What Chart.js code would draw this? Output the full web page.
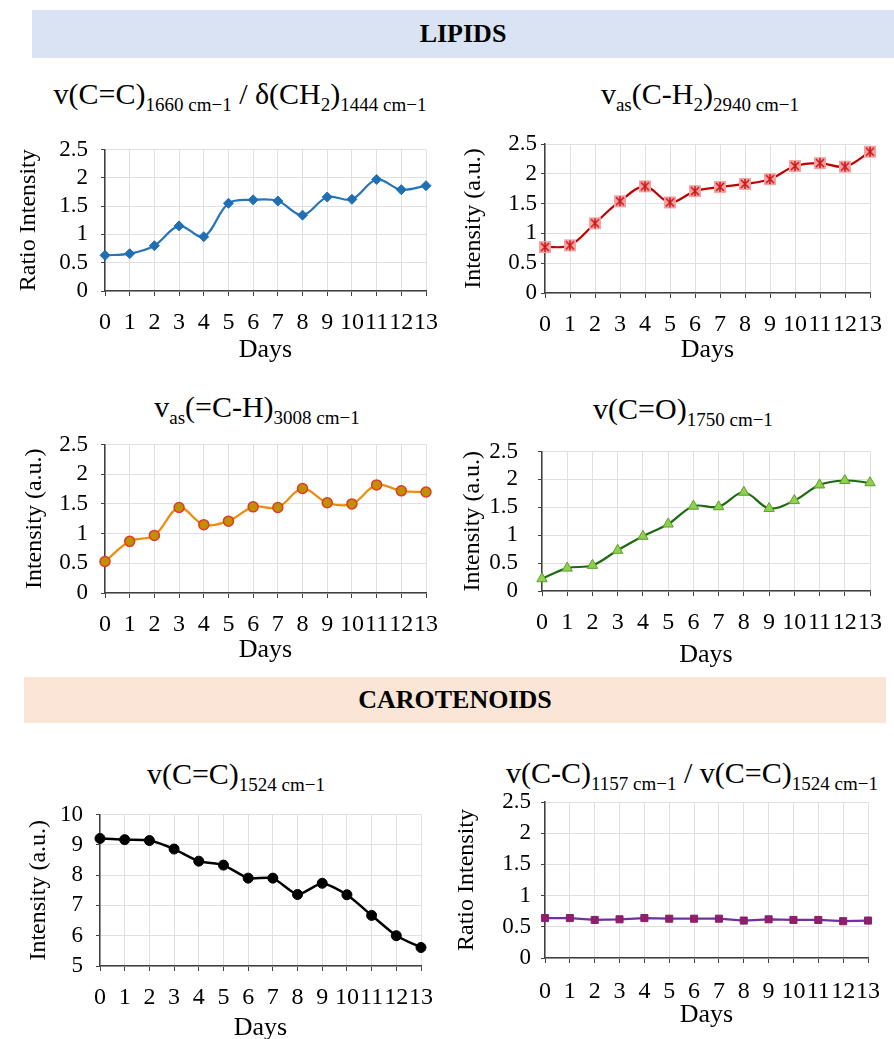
<!DOCTYPE html>
<html>
<head>
<meta charset="utf-8">
<script src="https://cdn.jsdelivr.net/npm/chart.js@4.4.1/dist/chart.umd.min.js"></script>
<style>
  html, body { margin:0; padding:0; background:#ffffff; }
  body { width:894px; height:1039px; position:relative; overflow:hidden; font-family:"Liberation Serif","Times New Roman",serif; color:#000; }
  .banner { position:absolute; font-weight:bold; font-size:26px; display:flex; align-items:center; justify-content:center; }
  .title { position:absolute; white-space:nowrap; font-size:30px; transform:translateX(-50%); line-height:1; }
  .title sub { font-size:19px; vertical-align:-0.35em; line-height:0; }
  .box { position:absolute; }
  .box canvas { display:block; }
</style>
</head>
<body>
<div class="banner" style="left:32px;top:10px;width:862px;height:48px;background:#dae3f3;">LIPIDS</div>
<div class="banner" style="left:24px;top:677px;width:862px;height:46px;background:#fbe5d6;">CAROTENOIDS</div>

<div class="title" style="left:240px;top:79px;">v(C=C)<sub>1660 cm−1</sub> / δ(CH<sub>2</sub>)<sub>1444 cm−1</sub></div>
<div class="title" style="left:700px;top:79px;">v<sub>as</sub>(C-H<sub>2</sub>)<sub>2940 cm−1</sub></div>
<div class="title" style="left:257px;top:392px;">v<sub>as</sub>(=C-H)<sub>3008 cm−1</sub></div>
<div class="title" style="left:683px;top:394px;">v(C=O)<sub>1750 cm−1</sub></div>
<div class="title" style="left:236px;top:759px;">v(C=C)<sub>1524 cm−1</sub></div>
<div class="title" style="left:692px;top:758px;">v(C-C)<sub>1157 cm−1</sub> / v(C=C)<sub>1524 cm−1</sub></div>

<div class="box" id="b1"><canvas id="c1"></canvas></div>
<div class="box" id="b2"><canvas id="c2"></canvas></div>
<div class="box" id="b3"><canvas id="c3"></canvas></div>
<div class="box" id="b4"><canvas id="c4"></canvas></div>
<div class="box" id="b5"><canvas id="c5"></canvas></div>
<div class="box" id="b6"><canvas id="c6"></canvas></div>

<script>
// ---- data ----
const days = ['0','1','2','3','4','5','6','7','8','9','10','11','12','13'];
const ratioCC_CH2 = [0.63, 0.66, 0.80, 1.15, 0.96, 1.55, 1.61, 1.59, 1.34, 1.66, 1.62, 1.97, 1.79, 1.86];
const vasCH2      = [0.77, 0.80, 1.17, 1.54, 1.79, 1.52, 1.71, 1.78, 1.83, 1.91, 2.13, 2.18, 2.12, 2.37];
const vasCH       = [0.53, 0.87, 0.97, 1.44, 1.15, 1.21, 1.45, 1.44, 1.76, 1.52, 1.50, 1.82, 1.72, 1.70];
const vCO         = [0.22, 0.41, 0.46, 0.73, 0.98, 1.20, 1.52, 1.51, 1.77, 1.48, 1.62, 1.90, 1.98, 1.94];
const vCC1524     = [9.21, 9.17, 9.14, 8.86, 8.46, 8.33, 7.90, 7.90, 7.36, 7.73, 7.35, 6.67, 6.00, 5.61];
const ratioCC_CC  = [0.64, 0.64, 0.61, 0.62, 0.64, 0.63, 0.63, 0.63, 0.60, 0.62, 0.61, 0.61, 0.59, 0.60];
const xTitle = 'Days';
const yTitleRatio = 'Ratio Intensity';
const yTitleInt = 'Intensity (a.u.)';

const FONT = "'Liberation Serif', 'Times New Roman', serif";

// custom asterisk-in-square marker
function starMarker() {
  const c = document.createElement('canvas');
  c.width = 14; c.height = 14;
  const g = c.getContext('2d');
  g.fillStyle = '#f3a3a3';
  g.fillRect(1, 1, 12, 12);
  g.strokeStyle = '#d01818';
  g.lineWidth = 1.6;
  g.beginPath();
  g.moveTo(3, 3); g.lineTo(11, 11);
  g.moveTo(11, 3); g.lineTo(3, 11);
  g.moveTo(7, 2); g.lineTo(7, 12);
  g.stroke();
  return c;
}

function makeChart(cfg) {
  const box = document.getElementById(cfg.box);
  box.style.left = cfg.cl + 'px';
  box.style.top = cfg.ct + 'px';
  box.style.width = cfg.cw + 'px';
  box.style.height = cfg.ch + 'px';
  const cv = document.getElementById(cfg.canvas);
  cv.width = cfg.cw; cv.height = cfg.ch;
  cv.style.width = cfg.cw + 'px'; cv.style.height = cfg.ch + 'px';
  const yW = cfg.pl - cfg.cl;
  const xH = cfg.ct + cfg.ch - cfg.pb;
  new Chart(cv, {
    type: 'line',
    data: {
      labels: days,
      datasets: [{
        data: cfg.data,
        borderColor: cfg.line,
        borderWidth: cfg.lw || 2.2,
        tension: cfg.tension,
        cubicInterpolationMode: 'default',
        pointStyle: cfg.pointStyle,
        pointRadius: cfg.pr,
        pointBackgroundColor: cfg.pfill,
        pointBorderColor: cfg.pborder,
        pointBorderWidth: cfg.pbw || 1,
        fill: false
      }]
    },
    options: {
      responsive: false,
      maintainAspectRatio: false,
      animation: false,
      devicePixelRatio: 1,
      layout: { padding: { left: 0, top: cfg.pt - cfg.ct, right: cfg.cl + cfg.cw - cfg.pr_, bottom: 0 } },
      plugins: { legend: { display: false }, tooltip: { enabled: false }, title: { display: false } },
      scales: {
        x: {
          type: 'category',
          offset: false,
          grid: { color: '#e0e0e0', lineWidth: 1, drawTicks: true, tickLength: 5, tickColor: '#404040' },
          border: { color: '#404040', width: 1.5 },
          ticks: { autoSkip: false, maxRotation: 0, minRotation: 0, color: '#000', padding: cfg.xpad, font: { family: FONT, size: 24 } },
          title: { display: true, text: xTitle, color: '#000', font: { family: FONT, size: 26, lineHeight: 1 }, padding: { top: 0, bottom: cfg.xtpad } },
          afterFit: (s) => { s.height = xH; }
        },
        y: {
          min: cfg.ymin, max: cfg.ymax,
          grid: { color: '#e0e0e0', lineWidth: 1, drawTicks: true, tickLength: 4, tickColor: '#404040' },
          border: { color: '#404040', width: 1.5 },
          ticks: { stepSize: cfg.step, autoSkip: false, color: '#000', padding: cfg.ypad,
                   font: { family: FONT, size: 23, lineHeight: 1 },
                   callback: (v) => String(Math.round(v * 10) / 10) },
          title: { display: true, text: cfg.ytitle, color: '#000', font: { family: FONT, size: 24 }, padding: { top: cfg.ytpad, bottom: 0 } },
          afterFit: (s) => { s.width = yW; }
        }
      }
    }
  });
}

const star = starMarker();

makeChart({ box:'b1', canvas:'c1', cl:0, ct:125, cw:450, ch:245, pl:105, pr_:427, pt:144, pb:291,
  data: ratioCC_CH2, line:'#2874b8', tension:0.35, pointStyle:'rectRot', pr:5, pfill:'#1f6fb5', pborder:'#1f6fb5',
  ymin:0, ymax:2.5, step:0.5, ytitle:yTitleRatio, xpad:12, xtpad:7, ypad:13, ytpad:14 });

makeChart({ box:'b2', canvas:'c2', cl:450, ct:125, cw:444, ch:245, pl:545, pr_:879, pt:144, pb:293,
  data: vasCH2, line:'#c00000', tension:0.35, pointStyle:star, pr:7, pfill:'#f3a3a3', pborder:'#d01818',
  ymin:0, ymax:2.5, step:0.5, ytitle:yTitleInt, xpad:12, xtpad:7, ypad:4, ytpad:9 });

makeChart({ box:'b3', canvas:'c3', cl:0, ct:420, cw:450, ch:245, pl:105, pr_:430, pt:438, pb:593,
  data: vasCH, line:'#ee8c10', tension:0.35, pointStyle:'circle', pr:5, pfill:'#bf9000', pborder:'#e03a2a', pbw:1.5,
  ymin:0, ymax:2.5, step:0.5, ytitle:yTitleInt, xpad:12, xtpad:2, ypad:13, ytpad:20 });

makeChart({ box:'b4', canvas:'c4', cl:450, ct:420, cw:444, ch:250, pl:542, pr_:877, pt:437, pb:591,
  data: vCO, line:'#1d6a12', tension:0.35, pointStyle:'triangle', pr:6, pfill:'#8fd14f', pborder:'#5c9e2c',
  ymin:0, ymax:2.5, step:0.5, ytitle:yTitleInt, xpad:12, xtpad:2, ypad:20, ytpad:8 });

makeChart({ box:'b5', canvas:'c5', cl:0, ct:790, cw:450, ch:249, pl:100, pr_:421, pt:813, pb:966,
  data: vCC1524, line:'#000000', tension:0.2, pointStyle:'circle', pr:5, pfill:'#000000', pborder:'#000000', lw:2.5,
  ymin:5, ymax:10, step:1, ytitle:yTitleInt, xpad:12, xtpad:-2, ypad:13, ytpad:24 });

makeChart({ box:'b6', canvas:'c6', cl:450, ct:780, cw:444, ch:259, pl:545, pr_:879, pt:802, pb:958,
  data: ratioCC_CC, line:'#7030a0', tension:0, pointStyle:'rect', pr:5, pfill:'#8e1f6a', pborder:'#8e1f6a',
  ymin:0, ymax:2.5, step:0.5, ytitle:yTitleRatio, xpad:14, xtpad:11, ypad:10, ytpad:2 });
</script>
</body>
</html>
